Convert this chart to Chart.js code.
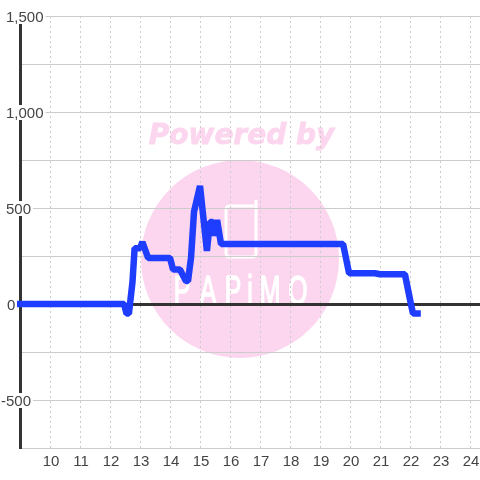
<!DOCTYPE html>
<html>
<head>
<meta charset="utf-8">
<style>
  html, body { margin: 0; padding: 0; background: #fff; }
  #wrap { width: 480px; height: 480px; }
</style>
<script src="https://cdn.jsdelivr.net/npm/chart.js@4"></script>
</head>
<body>
<div id="wrap"><canvas id="chart" width="480" height="480"></canvas></div>
<script>
// hour of day, value
const hours = [8.9, 12.47, 12.55, 12.63, 12.75, 12.82, 13.0, 13.08, 13.27, 14.0, 14.1, 14.33, 14.53, 14.6, 14.7, 14.8, 15.0, 15.23, 15.33, 15.43, 15.47, 15.57, 15.7, 19.77, 19.97, 20.83, 21.0, 21.83, 22.03, 22.1, 22.36];
const values = [0, 0, -50, -50, 115, 290, 290, 323, 240, 240, 180, 180, 120, 120, 240, 480, 615, 276, 427, 427, 355, 437, 312, 312, 160, 160, 155, 155, 0, -50, -50];
const labeledY = [1500, 1000, 500, 0, -500];
const logoLetters = ['P', 'A', 'P', 'i', 'M', 'O'];
const logoCentres = [182, 208, 233, 250, 270, 298];

const watermark = {
    id: 'watermark',
    beforeDraw(chart) {
        const ctx = chart.ctx;
        ctx.save();
        ctx.fillStyle = '#fcd6ee';
        ctx.strokeStyle = '#fcd6ee';
        ctx.beginPath();
        ctx.arc(240, 259, 99, 0, Math.PI * 2);
        ctx.fill();

        ctx.font = 'italic bold 28px "DejaVu Sans"';
        ctx.textAlign = 'center';
        ctx.textBaseline = 'middle';
        ctx.lineWidth = 0.8;
        ctx.fillText('Powered by', 241.5, 137);
        ctx.strokeText('Powered by', 241.5, 137);

        // phone outline of the logo
        ctx.strokeStyle = '#fff';
        ctx.lineWidth = 3;
        ctx.lineJoin = 'round';
        ctx.beginPath();
        ctx.moveTo(254, 206);
        ctx.lineTo(230, 206);
        ctx.quadraticCurveTo(226, 206, 226, 210);
        ctx.lineTo(226, 253);
        ctx.quadraticCurveTo(226, 257, 230, 257);
        ctx.lineTo(252, 257);
        ctx.quadraticCurveTo(256, 257, 256, 253);
        ctx.lineTo(256, 200);
        ctx.stroke();

        // logo word, narrow and tall
        ctx.fillStyle = '#fff';
        ctx.lineWidth = 1.5;
        ctx.font = '40px "Liberation Sans"';
        ctx.textBaseline = 'alphabetic';
        logoLetters.forEach((letter, i) => {
            ctx.save();
            ctx.translate(logoCentres[i], 304);
            ctx.scale(0.62, 1);
            ctx.fillText(letter, 0, 0);
            ctx.strokeText(letter, 0, 0);
            ctx.restore();
        });
        ctx.restore();
    }
};

// "-500" hangs out left of the other labels, "0" sits a touch right
// backdrop coords are relative to the label's translation
const nudgeLabels = {
    id: 'nudgeLabels',
    beforeDraw(chart) {
        chart.scales.y.getLabelItems().forEach(item => {
            const shift = item.label === '-500' ? -5 : item.label === '0' ? 1 : 0;
            item.options.translation[0] += shift;
            item.options.translation[1] += 2;
            if (item.options.backdrop) {
                item.options.backdrop.top = -9;
                item.options.backdrop.height = 15;
            }
        });
        chart.scales.x.getLabelItems().forEach(item => {
            item.options.translation[0] += 1;
        });
    }
};

new Chart(document.getElementById('chart'), {
    type: 'line',
    data: {
        datasets: [{
            data: hours.map((h, i) => ({ x: h, y: values[i] })),
            borderColor: '#1f3dff',
            borderWidth: 6.5,
            borderJoinStyle: 'bevel',
            pointRadius: 0,
            tension: 0,
            fill: false,
            clip: false
        }]
    },
    options: {
        responsive: false,
        animation: false,
        layout: { padding: { left: 20, top: 16, right: 0, bottom: 0 } },
        plugins: { legend: { display: false }, tooltip: { enabled: false } },
        scales: {
            x: {
                type: 'linear',
                min: 9,
                max: 24.333,
                afterFit: scale => {
                    scale.height = 32;
                    scale.paddingLeft = 0;
                    scale.paddingRight = 0;
                },
                grid: { color: '#ccc', lineWidth: 1, drawTicks: false },
                border: { display: false, dash: [2, 3] },
                ticks: {
                    stepSize: 1,
                    includeBounds: false,
                    autoSkip: false,
                    maxRotation: 0,
                    padding: 5,
                    color: '#444',
                    font: { family: '"Liberation Sans"', size: 15 },
                    callback: v => (v === 9 ? '' : String(v))
                }
            },
            y: {
                min: -750,
                max: 1500,
                afterFit: scale => { scale.width = 0; },
                grid: {
                    drawTicks: false,
                    color: c => (c.tick.value === 0 ? '#333' : '#ccc'),
                    lineWidth: c => (c.tick.value === 0 ? 3 : 1)
                },
                border: { display: true, color: '#333', width: 3 },
                ticks: {
                    stepSize: 250,
                    mirror: true,
                    padding: -14,
                    autoSkip: false,
                    color: '#444',
                    font: { family: '"Liberation Sans"', size: 15 },
                    showLabelBackdrop: c => labeledY.includes(c.tick.value),
                    backdropColor: '#fff',
                    backdropPadding: { x: 2, y: 0 },
                    callback: v => (labeledY.includes(v) ? v.toLocaleString('en-US') : '')
                }
            }
        }
    },
    plugins: [nudgeLabels, watermark]
});
</script>
</body>
</html>
